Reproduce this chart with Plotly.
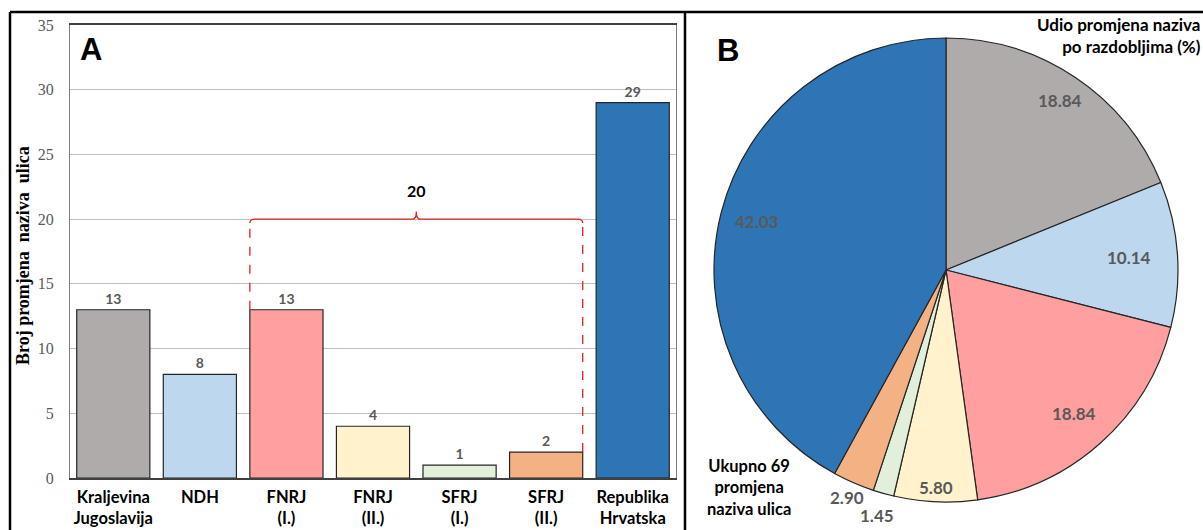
import math
import plotly.graph_objects as go

# ---- data ----
categories = ["Kraljevina<br>Jugoslavija", "NDH", "FNRJ<br>(I.)", "FNRJ<br>(II.)",
              "SFRJ<br>(I.)", "SFRJ<br>(II.)", "Republika<br>Hrvatska"]
bar_values = [13, 8, 13, 4, 1, 2, 29]
pie_pct = [18.84, 10.14, 18.84, 5.80, 1.45, 2.90, 42.03]
colors = ["#AFABAB", "#BDD7EE", "#FF9F9F", "#FFF2CC", "#E2EFDA", "#F4B183", "#2E75B6"]
y_ticks = [0, 5, 10, 15, 20, 25, 30, 35]
y_title = "Broj promjena  naziva  ulica"
bracket_range = (2, 5)  # FNRJ (I.) .. SFRJ (II.)

W, H = 1203, 530
BW = 0.845
LABEL_FONT = "Lato"
GRAY = "#595959"

fig = go.Figure()

fig.add_trace(go.Bar(
    x=list(range(len(categories))), y=bar_values,
    marker=dict(color=colors, line=dict(color="#262626", width=1.2)),
    width=BW,
    text=[str(v) for v in bar_values], textposition="outside",
    textfont=dict(family=LABEL_FONT, size=14, color=GRAY, weight="bold"),
    cliponaxis=False, showlegend=False, hoverinfo="skip",
))

# pie
cx_px, cy_px, R = 946, 270, 232
dom_x = [(cx_px - R) / W, (cx_px + R) / W]
dom_y = [(H - cy_px - R) / H, (H - cy_px + R) / H]
fig.add_trace(go.Pie(
    values=pie_pct, sort=False, direction="clockwise", rotation=0,
    marker=dict(colors=colors, line=dict(color="#262626", width=1.2)),
    textinfo="none", domain=dict(x=dom_x, y=dom_y), showlegend=False,
    hoverinfo="skip",
))

# pie labels computed from slice angles
radial = [0.88, 0.79, 0.83, 0.94, 1.10, 1.07, 0.84]
total = sum(pie_pct)
cum = 0
for v, rf in zip(pie_pct, radial):
    mid = (cum + v / 2) / total * 2 * math.pi
    cum += v
    px = cx_px + rf * R * math.sin(mid)
    py = cy_px - rf * R * math.cos(mid)
    fig.add_annotation(x=px / W, y=(H - py) / H, xref="paper", yref="paper",
                       xanchor="center", yanchor="middle",
                       text=f"{v:.2f}", showarrow=False,
                       font=dict(family=LABEL_FONT, size=17, color=GRAY, weight="bold"))

# bracket
x0 = bracket_range[0] - BW / 2
x1 = bracket_range[1] + BW / 2
top = 20
xm = (x0 + x1) / 2
red = "#E02020"
fig.add_shape(type="line", x0=x0, x1=x0, y0=bar_values[bracket_range[0]], y1=top - 0.3,
              xref="x", yref="y", line=dict(color=red, width=1.3, dash="dash"))
fig.add_shape(type="line", x0=x1, x1=x1, y0=bar_values[bracket_range[1]], y1=top - 0.3,
              xref="x", yref="y", line=dict(color=red, width=1.3, dash="dash"))
fig.add_shape(type="path", xref="x", yref="y",
              path=f"M {x0} {top-0.3} Q {x0} {top} {x0+0.06} {top} L {xm-0.05} {top} "
                   f"Q {xm} {top} {xm} {top+0.5} L {xm} {top+0.6} L {xm} {top+0.5} "
                   f"Q {xm} {top} {xm+0.05} {top} L {x1-0.06} {top} Q {x1} {top} {x1} {top-0.3}",
              line=dict(color=red, width=1.3))
bracket_sum = sum(bar_values[bracket_range[0]:bracket_range[1] + 1])
fig.add_annotation(x=xm, y=top + 2.2, xref="x", yref="y", text=f"<b>{bracket_sum}</b>",
                   showarrow=False, xanchor="center", yanchor="middle",
                   font=dict(family=LABEL_FONT, size=16, color="black"))

# y-axis title
fig.add_annotation(x=23 / W, y=(H - 256) / H, xref="paper", yref="paper",
                   text=f"<b>{y_title}</b>", textangle=-90, showarrow=False,
                   xanchor="center", yanchor="middle",
                   font=dict(family="Liberation Serif", size=18, color="black"))

# panel letters and texts
fig.add_annotation(x=78 / W, y=(H - 50) / H, xref="paper", yref="paper", text="<b>A</b>",
                   showarrow=False, xanchor="left", yanchor="middle",
                   font=dict(family="Liberation Sans", size=31, color="black"))
fig.add_annotation(x=715 / W, y=(H - 51) / H, xref="paper", yref="paper", text="<b>B</b>",
                   showarrow=False, xanchor="left", yanchor="middle",
                   font=dict(family="Liberation Sans", size=31, color="black"))
fig.add_annotation(x=1203 / W, y=(H - 36) / H, xref="paper", yref="paper",
                   text="<b>Udio promjena naziva<br>po razdobljima (%)</b>",
                   showarrow=False, xanchor="right", yanchor="middle", align="right",
                   font=dict(family=LABEL_FONT, size=17, color="black"))
fig.add_annotation(x=749 / W, y=(H - 487) / H, xref="paper", yref="paper",
                   text="<b>Ukupno 69<br>promjena<br>naziva ulica</b>",
                   showarrow=False, xanchor="center", yanchor="middle", align="center",
                   font=dict(family=LABEL_FONT, size=16.5, color="black"))

# frame lines
fl = dict(color="black", width=2.5)
fig.add_shape(type="line", xref="paper", yref="paper", x0=10 / W, x1=1, y0=(H - 12) / H, y1=(H - 12) / H, line=fl)
fig.add_shape(type="line", xref="paper", yref="paper", x0=10 / W, x1=10 / W, y0=0, y1=(H - 12) / H, line=fl)
fig.add_shape(type="line", xref="paper", yref="paper", x0=685 / W, x1=685 / W, y0=0, y1=(H - 12) / H, line=fl)

fig.update_layout(
    width=W, height=H, margin=dict(l=0, r=0, t=0, b=0, autoexpand=False),
    paper_bgcolor="white", plot_bgcolor="white",
    bargap=1 - BW,
    xaxis=dict(domain=[70 / W, 676 / W], range=[-0.5, len(categories) - 0.5],
               tickmode="array", tickvals=list(range(len(categories))),
               ticktext=[f"<b>{c}</b>" for c in categories],
               tickfont=dict(family=LABEL_FONT, size=16.5, color="black"),
               ticklabelstandoff=3,
               showline=True, linecolor="#404040", linewidth=1.5, mirror=True,
               ticks="", showgrid=False, zeroline=False, fixedrange=True, automargin=False),
    yaxis=dict(domain=[(H - 478) / H, (H - 25) / H], range=[0, 35],
               tickvals=y_ticks, tickfont=dict(family="Liberation Serif", size=16, color=GRAY),
               showline=True, linecolor="#7f7f7f", linewidth=1, mirror=True,
               gridcolor="#BFBFBF", gridwidth=1, zeroline=False, ticks="",
               ticklabelstandoff=12, automargin=False, fixedrange=True),
)

fig.write_html("out.html", config={"displayModeBar": False},
               post_script="document.body.style.margin='0';document.body.style.overflow='hidden';")
